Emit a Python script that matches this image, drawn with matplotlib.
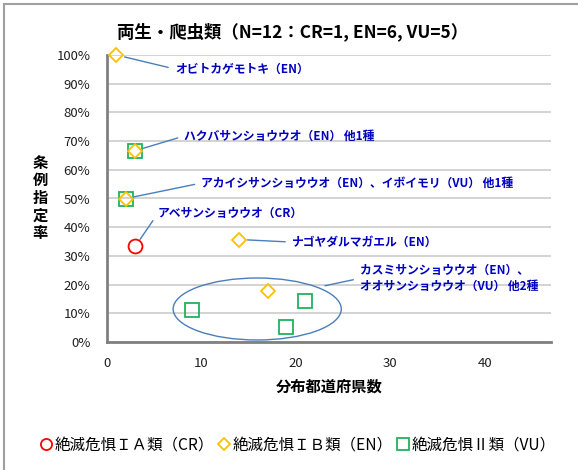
import matplotlib
matplotlib.use("Agg")
import matplotlib.pyplot as plt
from matplotlib.patches import Ellipse
from matplotlib.lines import Line2D
from matplotlib.ticker import PercentFormatter, MultipleLocator

plt.rcParams['font.family'] = ['Noto Sans CJK JP', 'DejaVu Sans']

# 分布都道府県数 / 条例指定率
cr_x = [3]
cr_y = [1 / 3]
en_x = [1, 3, 2, 14, 17]
en_y = [1.0, 2 / 3, 1 / 2, 5 / 14, 3 / 17]
vu_x = [3, 2, 9, 19, 21]
vu_y = [2 / 3, 1 / 2, 1 / 9, 1 / 19, 3 / 21]

labels = ["オビトカゲモトキ（EN）",
          "ハクバサンショウウオ（EN） 他1種",
          "アカイシサンショウウオ（EN）、イボイモリ（VU） 他1種",
          "アベサンショウウオ（CR）",
          "ナゴヤダルマガエル（EN）",
          "カスミサンショウウオ（EN）、\nオオサンショウウオ（VU） 他2種"]
label_pts = [(1, 1.0), (3, 2 / 3), (2, 1 / 2), (3, 1 / 3), (14, 5 / 14), (22.2, 0.19)]
label_pos = [(7.2, 0.951), (8.2, 0.718), (10.0, 0.554), (5.4, 0.449), (19.6, 0.348), (26.8, 0.222)]

legend_names = ["絶滅危惧ＩＡ類（CR）", "絶滅危惧ＩＢ類（EN）", "絶滅危惧Ⅱ類（VU）"]

red = '#ff0000'
gold = '#ffc000'
green = '#1fb35a'
navy = '#0000c0'
leader = '#4a7ebb'

fig = plt.figure(figsize=(5.78, 4.70), dpi=100)
ax = fig.add_axes([107 / 578, 1 - 342 / 470, 444 / 578, 287 / 470])

ax.plot(vu_x, vu_y, ls='none', marker='s', ms=10.5, mfc='none', mec=green, mew=1.3,
        zorder=3, clip_on=False)
ax.plot(en_x, en_y, ls='none', marker='D', ms=7.5, mfc='none', mec=gold, mew=1.3,
        zorder=4, clip_on=False)
ax.plot(cr_x, cr_y, ls='none', marker='o', ms=10, mfc='none', mec=red, mew=1.3,
        zorder=4, clip_on=False)

ax.add_patch(Ellipse((15.9, 0.115), 17.8, 0.216, fill=False, ec=leader, lw=1.0, zorder=2))

for text, pt, pos in zip(labels, label_pts, label_pos):
    ax.annotate(text, xy=pt, xytext=pos, textcoords='data', ha='left', va='center',
                fontsize=8.5, fontweight='bold', color=navy, linespacing=1.35,
                arrowprops=dict(arrowstyle='-', color=leader, lw=1.0,
                                shrinkA=3, shrinkB=6, relpos=(0, 0.5)))

ax.set_xlim(0, 47)
ax.set_ylim(0, 1.0)
ax.xaxis.set_major_locator(MultipleLocator(10))
ax.yaxis.set_major_locator(MultipleLocator(0.1))
ax.yaxis.set_major_formatter(PercentFormatter(1.0, decimals=0))
ax.grid(axis='y', color='#d0d0d0', lw=1.3)
ax.set_axisbelow(True)
ax.tick_params(length=0, labelsize=9.5, colors='#202020')
ax.tick_params(axis='y', pad=12)
ax.tick_params(axis='x', pad=11)
for s in ['top', 'right']:
    ax.spines[s].set_visible(False)
for s in ['left', 'bottom']:
    ax.spines[s].set_color('#808080')
    ax.spines[s].set_linewidth(2)

ax.set_xlabel("分布都道府県数", fontsize=11, fontweight='bold', labelpad=6)
fig.text(40 / 578, 1 - 198 / 470, "\n".join("条例指定率"), ha='center', va='center',
         fontsize=11, fontweight='bold', linespacing=1.12)

fig.text(293 / 578, 1 - 32 / 470, "両生・爬虫類（N=12：CR=1, EN=6, VU=5）",
         ha='center', va='center', fontsize=12.5, fontweight='bold')

handles = [Line2D([], [], ls='none', marker='o', ms=8, mfc='none', mec=red, mew=1.3),
           Line2D([], [], ls='none', marker='D', ms=6, mfc='none', mec=gold, mew=1.3),
           Line2D([], [], ls='none', marker='s', ms=8, mfc='none', mec=green, mew=1.3)]
fig.legend(handles, legend_names, loc='center', bbox_to_anchor=(298 / 578, 1 - 445 / 470),
           ncol=3, frameon=False, fontsize=11.2, handlelength=0.7, handletextpad=0.2,
           columnspacing=0.3)

# outer frame
fig.add_artist(Line2D([4 / 578, 4 / 578], [0, 1 - 4 / 470], color='#a0a0a0', lw=1.5))
fig.add_artist(Line2D([4 / 578, 1], [1 - 4 / 470, 1 - 4 / 470], color='#a0a0a0', lw=1.5))

fig.savefig("out.png", dpi=100)
